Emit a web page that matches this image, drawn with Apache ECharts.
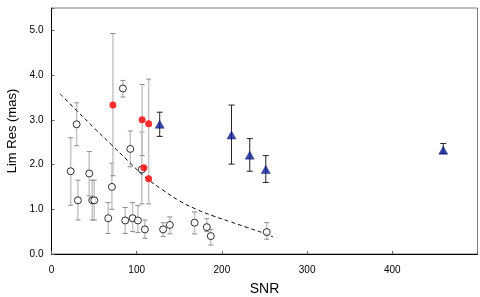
<!DOCTYPE html>
<html>
<head>
<meta charset="utf-8">
<script src="https://cdn.jsdelivr.net/npm/echarts@6/dist/echarts.min.js"></script>
<style>html,body{margin:0;padding:0;background:#fff}#c{width:480px;height:297px}</style>
</head>
<body>
<div id="c"></div>
<script>
// Open circles (gray error bars)
const openX  = [22.5, 29.5, 31, 44.3, 47.8, 50.2, 66.6, 70.9, 83.8, 86.5, 92.5, 95.2, 101.4, 106, 109.6, 131, 138.9, 167.9, 182.3, 187, 252.6];
const openY  = [1.85, 2.9, 1.2, 1.8, 1.2, 1.2, 0.8, 1.5, 3.7, 0.75, 2.35, 0.8, 0.75, 1.89, 0.55, 0.55, 0.65, 0.7, 0.6, 0.4, 0.49];
const openLo = [1.09, 2.42, 0.76, 1.3, 0.76, 0.76, 0.46, 1.0, 3.51, 0.46, 1.95, 0.5, 0.48, 1.12, 0.35, 0.39, 0.45, 0.45, 0.5, 0.2, 0.33];
const openHi = [2.6, 3.38, 1.65, 2.29, 1.65, 1.65, 1.15, 2.03, 3.88, 1.04, 2.75, 1.15, 1.08, 2.73, 0.76, 0.7, 0.83, 0.94, 0.79, 0.55, 0.7];
// Red filled circles
const redX  = [72.1, 106.4, 114, 108.4, 114];
const redY  = [3.33, 3.0, 2.91, 1.93, 1.68];
const redLo = [1.75, 2.2, 1.12, 1.93, 1.68];
const redHi = [4.93, 3.79, 3.91, 1.93, 1.68];
// Blue triangles
const blueX  = [127, 211.3, 232.7, 251.5, 459.8];
const blueY  = [2.9, 2.66, 2.21, 1.89, 2.32];
const blueLo = [2.63, 2.01, 1.85, 1.6, 2.25];
const blueHi = [3.17, 3.33, 2.58, 2.2, 2.47];
// Dashed trend curve
const fitX = [10, 30, 50, 70, 90, 110, 130, 150, 170, 190, 210, 230, 250, 260];
const fitY = [3.58, 3.2, 2.82, 2.45, 2.08, 1.72, 1.44, 1.19, 1.0, 0.85, 0.72, 0.59, 0.46, 0.38];
// Axis
const xTicks = [0, 100, 200, 300, 400];
const yTicks = [0, 1, 2, 3, 4, 5];

function zip4(x, y, lo, hi) { return x.map((v, i) => [v, y[i], lo[i], hi[i]]); }
function errRender(barColor, capColor, lw, capW) {
  return function (params, api) {
    const x = api.value(0), lo = api.value(2), hi = api.value(3);
    if (lo === hi) return null;
    const pH = api.coord([x, hi]), pL = api.coord([x, lo]);
    return {
      type: 'group',
      children: [
        { type: 'line', shape: { x1: pH[0], y1: pH[1], x2: pL[0], y2: pL[1] }, style: { stroke: barColor, lineWidth: lw } },
        { type: 'line', shape: { x1: pH[0] - capW, y1: pH[1], x2: pH[0] + capW, y2: pH[1] }, style: { stroke: capColor, lineWidth: 1 } },
        { type: 'line', shape: { x1: pL[0] - capW, y1: pL[1], x2: pL[0] + capW, y2: pL[1] }, style: { stroke: capColor, lineWidth: 1 } }
      ]
    };
  };
}

const chart = echarts.init(document.getElementById('c'), null, { renderer: 'canvas' });
chart.setOption({
  animation: false,
  grid: { left: 51.5, right: 2.5, top: 8, bottom: 43, show: true, borderColor: '#808080', borderWidth: 1,
    backgroundColor: '#fff', containLabel: false, outerBoundsMode: 'none' },
  xAxis: {
    type: 'value', min: 0, max: 500, interval: 100,
    name: 'SNR', nameLocation: 'middle', nameGap: 28,
    nameTextStyle: { fontFamily: 'Liberation Sans', fontSize: 14, color: '#000' },
    axisLine: { show: true, onZero: false, lineStyle: { color: '#000', width: 1 } },
    axisTick: { show: true, inside: true, length: 3, lineStyle: { color: '#666' } },
    splitLine: { show: false },
    axisLabel: { fontFamily: 'Liberation Sans', fontSize: 10, color: '#000', margin: 11,
      formatter: v => xTicks.indexOf(v) >= 0 ? String(v) : '' }
  },
  yAxis: {
    type: 'value', min: 0, max: 5.5, interval: 1,
    name: 'Lim Res (mas)', nameLocation: 'middle', nameGap: 30, nameRotate: 90,
    nameTextStyle: { fontFamily: 'Liberation Sans', fontSize: 13, color: '#000' },
    axisLine: { show: true, onZero: false, lineStyle: { color: '#000', width: 1 } },
    axisTick: { show: true, inside: true, length: 3, lineStyle: { color: '#666' } },
    splitLine: { show: false },
    axisLabel: { fontFamily: 'Liberation Sans', fontSize: 10, color: '#000', margin: 8,
      formatter: v => yTicks.indexOf(v) >= 0 ? v.toFixed(1) : '' }
  },
  series: [
    { type: 'custom', renderItem: errRender('#c4c4c4', '#8c8c8c', 1.5, 2.5), data: zip4(openX, openY, openLo, openHi), encode: { x: 0, y: 1 }, z: 1, silent: true },
    { type: 'custom', renderItem: errRender('#c4c4c4', '#8c8c8c', 1.5, 2.5), data: zip4(redX, redY, redLo, redHi), encode: { x: 0, y: 1 }, z: 1, silent: true },
    { type: 'line', data: fitX.map((v, i) => [v, fitY[i]]), smooth: true, showSymbol: false, symbol: 'none',
      lineStyle: { color: '#000', width: 1, type: [4, 3] }, z: 2 },
    { type: 'scatter', data: openX.map((v, i) => [v, openY[i]]), symbol: 'circle', symbolSize: 7,
      itemStyle: { color: '#fff', borderColor: '#000', borderWidth: 1 }, z: 3 },
    { type: 'scatter', data: redX.map((v, i) => [v, redY[i]]), symbol: 'circle', symbolSize: 7,
      itemStyle: { color: '#ff0000' }, z: 4 },
    { type: 'custom', renderItem: errRender('#222', '#222', 1, 3), data: zip4(blueX, blueY, blueLo, blueHi), encode: { x: 0, y: 1 }, z: 4, silent: true },
    { type: 'scatter', data: blueX.map((v, i) => [v, blueY[i]]), symbol: 'triangle', symbolSize: [9, 8],
      itemStyle: { color: '#0b1f99', borderColor: '#000a60', borderWidth: 0.5 }, z: 5 }
  ]
});
</script>
</body>
</html>
